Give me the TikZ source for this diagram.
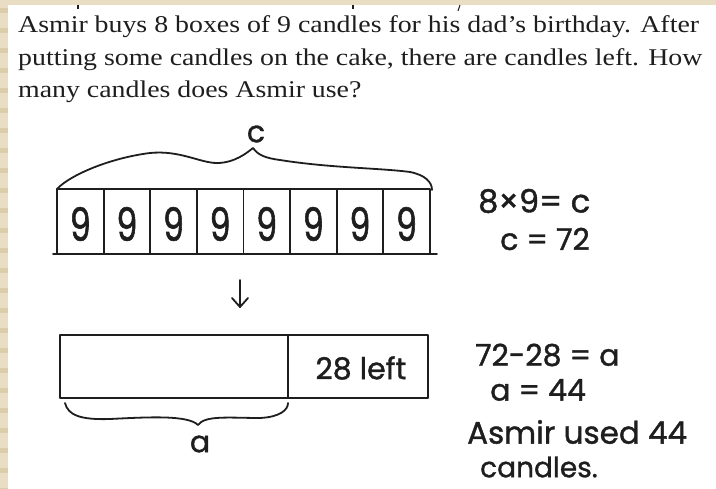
\documentclass[tikz,border=0pt]{standalone}
\usepackage{fontspec}
\setmainfont[FakeStretch=1.16]{Liberation Serif}
\newfontfamily\hand[FakeBold=1.2]{Poppins}
\newfontfamily\handnarrow[FakeBold=1.2,FakeStretch=0.72]{Poppins}
\definecolor{beige}{HTML}{E9DDC3}
\definecolor{beigedark}{HTML}{DCCDAA}
\definecolor{ink}{HTML}{1E1E1E}
\begin{document}
\begin{tikzpicture}[x=1pt,y=-1pt,
  pen/.style={draw=ink,line width=1.8pt,line cap=round,line join=round},
  prose/.style={anchor=base west,inner sep=0pt,text=ink,font=\fontsize{24}{28}\selectfont},
  hw/.style={inner sep=0pt,text=ink,font=\hand\fontsize{30}{32}\selectfont},
  digit/.style={inner sep=0pt,text=ink,font=\handnarrow\fontsize{46}{48}\selectfont}]
\useasboundingbox (0,0) rectangle (716,489);
\fill[white] (0,0) rectangle (716,489);
% beige border
\fill[beige] (0,0) rectangle (716,5);
\fill[beige] (0,0) rectangle (8,489);
\foreach \i in {0,...,24} {\fill[beigedark] (0,{\i*20+8}) rectangle (8,{\i*20+13});}
% cut-off glyph marks of a previous line
\draw[ink,line width=1.5pt] (78,5) -- (78,9);
\draw[ink,line width=1.5pt] (353,5) -- (353,9);
\draw[ink,line width=1pt] (460,5) -- (458,11);
% problem text
\node[prose] (l1) at (18,33) {Asmir buys 8 boxes of 9 candles for his dad’s birthday. After};
\node[prose] (l2) at (18,66) {putting some candles on the cake, there are candles left. How};
\node[prose] (l3) at (18,98) {many candles does Asmir use?};
% tape 1
\coordinate (t1nw) at (57,189);
\coordinate (t1se) at (430,254);
\draw[pen] (t1nw) rectangle (t1se);
\draw[pen] (53,254) -- (437,254);
\foreach \k in {1,...,7} {\draw[pen] ({57+\k*46.6},189) -- ({57+\k*46.6},254);}
\foreach \k [count=\n] in {0,...,7} {\node[digit] (n\n) at ({57+23.3+\k*46.6},224) {9};}
% brace over tape 1
\draw[pen] (57,189) .. controls (70,175) and (110,158) .. (150,153)
  .. controls (180,150) and (200,163) .. (217,163)
  .. controls (235,163) and (248,152) .. (253,148)
  .. controls (258,155) and (265,158) .. (280,160)
  .. controls (330,168) and (380,168) .. (410,172)
  .. controls (425,175) and (432,182) .. (432,190);
\node[hw] (c) at (256,134) {c};
% arrow
\coordinate (a1) at (240,280);
\coordinate (a2) at (240,307);
\draw[pen] (a1) -- (a2);
\draw[pen] (232,298) -- (a2) -- (248,298);
% tape 2
\draw[pen] (60,335) rectangle (428,398);
\draw[pen] (288,335) -- (288,398);
\node[hw] (left) at (361,368) {28 left};
% brace under tape 2
\draw[pen] (65,403) .. controls (68,415) and (80,420) .. (110,419)
  .. controls (150,417) and (188,415) .. (198,425)
  .. controls (205,415) and (230,418) .. (260,418)
  .. controls (280,417) and (288,410) .. (288,403);
\node[hw] (a) at (200,444) {a};
% working
\node[hw,anchor=west,font=\hand\fontsize{32}{34}\selectfont] (e1) at (478,201) {8×9= c};
\node[hw,anchor=west] (e2) at (500,239) {c = 72};
\node[hw,anchor=west] (e3) at (475,355) {72-28 = a};
\node[hw,anchor=west] (e4) at (490,390) {a = 44};
\node[hw,anchor=west,font=\hand\fontsize{31}{33}\selectfont] (e5) at (467,432) {Asmir used 44};
\node[hw,anchor=west,font=\hand\fontsize{28}{30}\selectfont] (e6) at (480,467) {candles.};
\end{tikzpicture}
\end{document}
